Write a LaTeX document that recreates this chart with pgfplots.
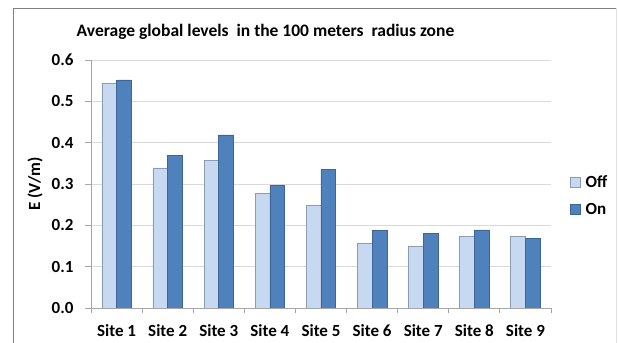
\documentclass[border=0pt]{standalone}
\usepackage{pgfplots}
\pgfplotsset{compat=1.18}
\usepackage{fontspec}
\setmainfont{Carlito}
\definecolor{offfill}{HTML}{C6D9F1}
\definecolor{offdraw}{HTML}{8A9BB2}
\definecolor{onfill}{HTML}{4F81BD}
\definecolor{ondraw}{HTML}{3F6594}
\definecolor{gridc}{HTML}{D9D9D9}
\definecolor{axisc}{HTML}{A6A6A6}
\begin{document}
\begin{tikzpicture}
\path[use as bounding box] (0,0) rectangle (618bp,343bp);
\fill[white] (0,0) rectangle (618bp,343bp);
\draw[color=gray, line width=0.8bp] (13bp,0) -- (13bp,335bp) -- (616bp,335bp);
\draw[color=gray!25, line width=0.8bp] (616bp,335bp) -- (616bp,0);
\node[anchor=base, font=\bfseries\fontsize{17.5bp}{20bp}\selectfont] at (265.5bp,306bp) {Average global levels\ \ in the 100 meters\ \ radius zone};
\begin{axis}[
  at={(91bp,35bp)}, anchor=south west,
  scale only axis, width=460bp, height=248bp,
  ybar, bar width=0.288,
  xmin=-0.5, xmax=8.5, ymin=0, ymax=0.6,
  xtick={0,...,8},
  xticklabels={Site 1,Site 2,Site 3,Site 4,Site 5,Site 6,Site 7,Site 8,Site 9},
  minor xtick={-0.5,0.5,...,8.5},
  ytick={0,0.1,...,0.6},
  tick align=outside,
  major x tick style={draw=none},
  minor x tick style={draw=axisc, line width=0.8bp},
  minor tick length=5bp,
  major tick length=6bp,
  y tick style={draw=axisc, line width=0.8bp},
  axis x line*=bottom, axis y line*=left,
  axis line style={-, draw=axisc, line width=0.8bp},
  ymajorgrids, grid style={draw=gridc, line width=0.8bp},
  yticklabel style={/pgf/number format/fixed, /pgf/number format/fixed zerofill, /pgf/number format/precision=1, xshift=-8bp},
  xticklabel style={yshift=-7bp},
  /pgf/number format/assume math mode=true,
  tick label style={font=\bfseries\fontsize{17bp}{20bp}\selectfont},
  ylabel={E (V/m)},
  ylabel style={font=\bfseries\fontsize{17bp}{20bp}\selectfont, at={(axis description cs:-0.1217,0.5)}, anchor=center},
  legend style={at={(1.041,0.452)}, anchor=west, draw=none, fill=none,
    font=\bfseries\fontsize{17bp}{20bp}\selectfont, row sep=10bp, column sep=3bp, inner sep=0pt},
  legend cell align=left,
  legend image code/.code={\draw[#1] (0bp,-5bp) rectangle (10bp,5bp);},
]
\addplot[fill=offfill, draw=offdraw, line width=0.6bp, bar shift=-0.144] coordinates {
(0,0.544) (1,0.339) (2,0.358) (3,0.278) (4,0.248) (5,0.157) (6,0.150) (7,0.174) (8,0.173)};
\addplot[fill=onfill, draw=ondraw, line width=0.6bp, bar shift=0.144] coordinates {
(0,0.552) (1,0.369) (2,0.419) (3,0.296) (4,0.335) (5,0.187) (6,0.181) (7,0.189) (8,0.168)};
\legend{Off,On}
\end{axis}
\end{tikzpicture}
\end{document}
